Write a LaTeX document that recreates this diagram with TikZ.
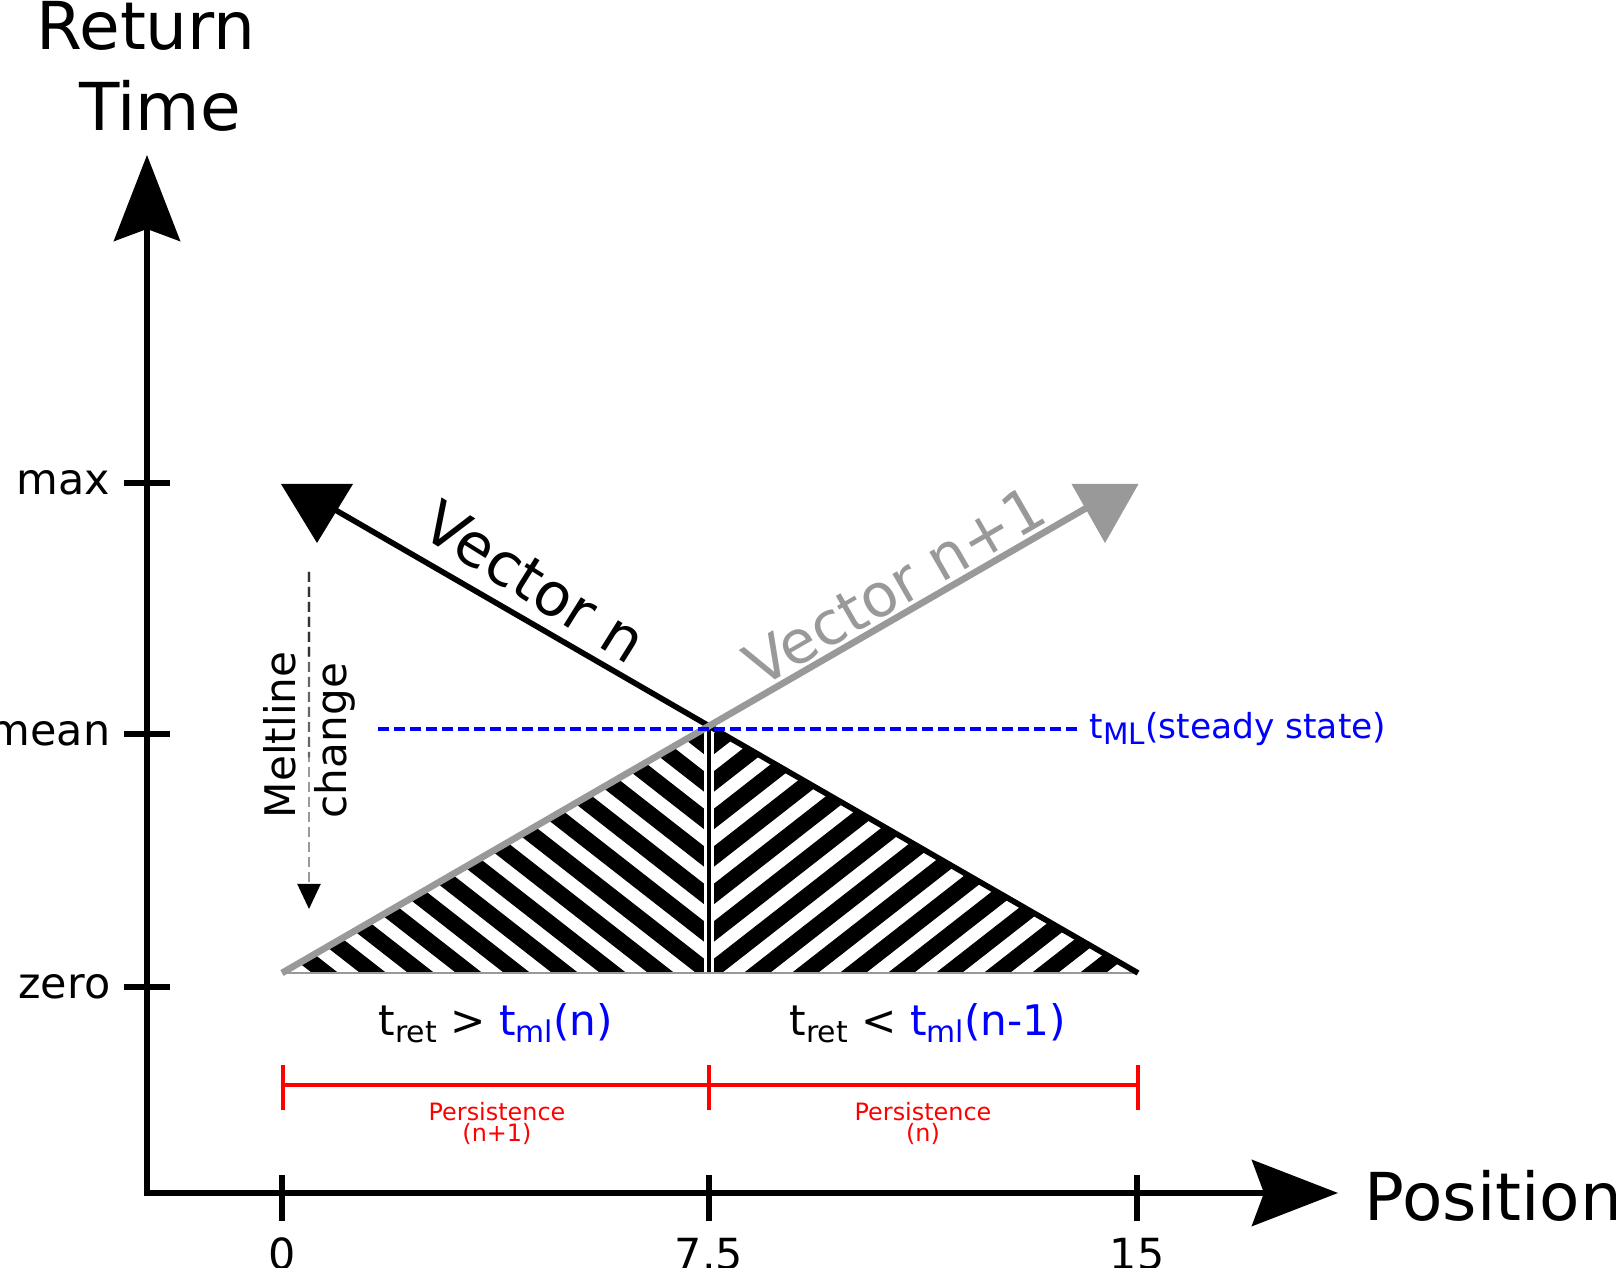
\documentclass[tikz,border=0pt]{standalone}
\usepackage{fontspec}
\setmainfont{DejaVu Sans}
\usetikzlibrary{arrows.meta,calc}

\definecolor{vecgray}{HTML}{999999}
\definecolor{mlblue}{HTML}{0000FF}
\definecolor{perred}{HTML}{FF0000}

\newcommand{\fsBig}{\fontsize{18.8}{22}\selectfont}
\newcommand{\fsVec}{\fontsize{17}{20}\selectfont}
\newcommand{\fsLab}{\fontsize{12.2}{14}\selectfont}
\newcommand{\fsMelt}{\fontsize{12}{14.5}\selectfont}
\newcommand{\fsRet}{\fontsize{12}{15}\selectfont}
\newcommand{\fsML}{\fontsize{9.8}{12}\selectfont}
\newcommand{\fsPer}{\fontsize{6.8}{6}\selectfont}
\newcommand{\lowsub}[2]{\raisebox{-0.3ex}{\fontsize{#1}{#1}\selectfont #2}}

\tikzset{
  bigtip/.tip={Stealth[length=0.86cm,width=0.66cm,inset=0.12cm]},
  axisline/.style={line width=1.7pt},
  vecline/.style={line width=1.6pt},
  hatchline/.style={line width=4.6pt},
  meltdash/.style={line width=0.6pt, dash pattern=on 0.1cm off 0.05cm},
  mldash/.style={mlblue, line width=0.9pt, dash pattern=on 0.11cm off 0.05cm},
  persline/.style={perred, line width=1pt},
  lab/.style={inner sep=0pt},
}

\begin{document}
\begin{tikzpicture}
\useasboundingbox (0,0) rectangle (16.16,12.68);

% axes
\coordinate (O) at (1.47,0.75);
\coordinate (ytip) at (1.47,11.13);
\coordinate (xtip) at (13.38,0.75);
\draw[axisline,bigtip-bigtip] (ytip) -- (O) -- (xtip);

\foreach \y/\name/\txt in {7.85/max/max, 5.34/mean/mean, 2.81/zero/zero}{
  \draw[axisline] (1.24,\y) -- (1.70,\y);
  \node[lab, anchor=east, font=\fsLab] (\name) at (1.11,\y) {\txt};
}
\foreach \x/\name/\txt in {2.82/pzero/0, 7.09/pmid/7.5, 11.37/pend/15}{
  \draw[axisline] (\x,0.47) -- (\x,0.93);
  \node[lab, anchor=base, font=\fsLab] (\name) at (\x,-0.02) {\txt};
}

\node[lab, anchor=base, font=\fsBig] (ret) at (1.46,12.185) {Return};
\node[lab, anchor=base, font=\fsBig] (time) at (1.60,11.37) {Time};
\node[lab, anchor=base west, font=\fsBig] (pos) at (13.64,0.47) {Position};

% hatched triangle
\coordinate (baseL) at (2.82,2.95);
\coordinate (baseM) at (7.09,2.95);
\coordinate (baseR) at (11.38,2.95);
\coordinate (apex) at (7.09,5.42);

\begin{scope}
\clip (baseL) -- (apex) -- (baseM) -- cycle;
\foreach \k in {-7,...,11}
  \draw[hatchline] (7.09-\k*0.48+1.5,2.95-1.17) -- ++(-8,6.25);
\end{scope}
\begin{scope}
\clip (baseM) -- (apex) -- (baseR) -- cycle;
\foreach \k in {-7,...,11}
  \draw[hatchline] (7.09+\k*0.48-1.5,2.95-1.17) -- ++(8,6.25);
\end{scope}
\draw[white, line width=2.6pt] (apex) -- (baseM);
\draw[line width=1.3pt] (apex) -- (baseM);
\draw[vecgray, line width=0.5pt] (baseL) -- (baseR);

% vectors
\coordinate (vnEnd) at (3.25,7.64);
\coordinate (vnHead) at (3.17,7.25);
\coordinate (vnoEnd) at (10.95,7.65);
\coordinate (vnoHead) at (11.05,7.25);
\draw[vecline] (baseR) -- (apex) -- (vnEnd);
\fill (vnHead) -- ++(-0.36,0.59) -- ++(0.72,0) -- cycle;
\draw[vecgray, line width=1.9pt] (baseL) -- (apex) -- (vnoEnd);
\fill[vecgray] (vnoHead) -- ++(-0.335,0.59) -- ++(0.67,0) -- cycle;

\node[font=\fsVec, rotate=-32] (vnlab) at (5.35,6.86) {Vector n};
\node[font=\fsVec, rotate=30, text=vecgray] (vnolab) at (8.95,6.82) {Vector n+1};

% meltline
\coordinate (mlStart) at (3.78,5.39);
\node[lab, anchor=west, text=mlblue, font=\fsML] (mllab) at (10.89,5.39)
  {t\lowsub{8.4}{ML}(steady state)};
\draw[mldash, shorten >=0.12cm] (mlStart) -- (mllab.west);

\coordinate (meltTop) at (3.09,6.96);
\coordinate (meltBot) at (3.09,3.59);
\draw[meltdash, vecgray, -{Triangle[length=0.25cm,width=0.23cm,color=black]}] (meltTop) -- (meltBot);
\draw[meltdash, black!60] (meltTop) -- ($(meltTop)!0.55!(meltBot)$);
\draw[meltdash, black!80] (meltTop) -- ($(meltTop)!0.25!(meltBot)$);
\node[lab, anchor=west, rotate=90, align=left, font=\fsMelt] (meltlab) at (3.09,4.49) {Meltline\\change};

% conditions
\node[lab, anchor=base west, font=\fsRet] (condL) at (3.78,2.32)
  {t\lowsub{8.5}{ret} > \textcolor{mlblue}{t\lowsub{8.5}{ml}(n)}};
\node[lab, anchor=base west, font=\fsRet] (condR) at (7.89,2.32)
  {t\lowsub{8.5}{ret} < \textcolor{mlblue}{t\lowsub{8.5}{ml}(n-1)}};

% persistence
\coordinate (perL) at (2.83,1.83);
\coordinate (perM) at (7.09,1.83);
\coordinate (perR) at (11.38,1.83);
\draw[persline] (perL) -- (perR);
\foreach \p in {perL,perM,perR}
  \draw[persline] (\p) ++(0,-0.25) -- ++(0,0.45);
\node[lab, align=center, text=perred, font=\fsPer, anchor=north] (perone) at (4.97,1.66) {Persistence\\(n+1)};
\node[lab, align=center, text=perred, font=\fsPer, anchor=north] (pertwo) at (9.23,1.66) {Persistence\\(n)};
\end{tikzpicture}
\end{document}
